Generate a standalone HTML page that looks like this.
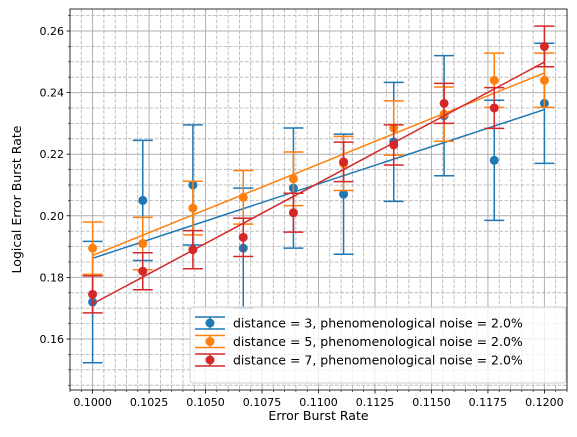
<!DOCTYPE html>
<html><head><meta charset="utf-8"><style>
body{margin:0;background:#fff;font-family:"Liberation Sans","DejaVu Sans",sans-serif}
svg text{font-family:"DejaVu Sans","Liberation Sans",sans-serif}
</style></head><body>
<svg id="chart" width="577" height="432" xmlns="http://www.w3.org/2000/svg"></svg>
<script>
const xs = [0.1, 0.10222, 0.10444, 0.10667, 0.10889, 0.11111, 0.11333, 0.11556, 0.11778, 0.12];
const d3vals = [0.172, 0.205, 0.21, 0.1895, 0.209, 0.207, 0.224, 0.2325, 0.218, 0.2365];
const d3errs = [0.0197, 0.0195, 0.0195, 0.0195, 0.0195, 0.0195, 0.0193, 0.0195, 0.0195, 0.0195];
const d5vals = [0.1895, 0.191, 0.2025, 0.206, 0.212, 0.217, 0.2285, 0.233, 0.244, 0.244];
const d5errs = [0.0085, 0.0085, 0.0087, 0.0087, 0.0087, 0.0088, 0.0088, 0.0088, 0.0088, 0.0088];
const d7vals = [0.1745, 0.182, 0.189, 0.193, 0.201, 0.2175, 0.223, 0.2365, 0.235, 0.255];
const d7errs = [0.006, 0.006, 0.0062, 0.0062, 0.0063, 0.0064, 0.0065, 0.0065, 0.0066, 0.0066];
const xTicks = ["0.1000","0.1025","0.1050","0.1075","0.1100","0.1125","0.1150","0.1175","0.1200"];
const yTicks = ["0.16","0.18","0.20","0.22","0.24","0.26"];
const seriesNames = ["distance = 3, phenomenological noise = 2.0%","distance = 5, phenomenological noise = 2.0%","distance = 7, phenomenological noise = 2.0%"];

const L=70,R=567,T=9,B=390;
const X0=0.099,X1=0.121,Y0=0.14344,Y1=0.26714;
const sx=v=>L+(v-X0)/(X1-X0)*(R-L);
const sy=v=>B-(v-Y0)/(Y1-Y0)*(B-T);
const svg=document.getElementById('chart');
const NS="http://www.w3.org/2000/svg";
function mk(tag,attrs,parent){const e=document.createElementNS(NS,tag);for(const k in attrs)e.setAttribute(k,attrs[k]);(parent||svg).appendChild(e);return e;}

const grid=mk('g',{});


for(let k=198;k<=242;k++){if(k%5===0)continue;const x=sx(k*0.0005);mk('line',{x1:x,x2:x,y1:T,y2:B,stroke:'#b0b0b0','stroke-width':0.8,'stroke-dasharray':'3.7,1.6'},grid);mk('line',{x1:x,x2:x,y1:B,y2:B+2,stroke:'#000','stroke-width':0.6});}
for(let k=29;k<=53;k++){if(k%4===0)continue;const y=sy(k*0.005);mk('line',{x1:L,x2:R,y1:y,y2:y,stroke:'#b0b0b0','stroke-width':0.8,'stroke-dasharray':'3.7,1.6'},grid);mk('line',{x1:L-2,x2:L,y1:y,y2:y,stroke:'#000','stroke-width':0.6});}
xTicks.forEach(t=>{const x=sx(+t);mk('line',{x1:x,x2:x,y1:T,y2:B,stroke:'#b0b0b0','stroke-width':1},grid);mk('line',{x1:x,x2:x,y1:B,y2:B+3.5,stroke:'#000','stroke-width':0.8});
 const tx=mk('text',{x:x,y:B+16,'text-anchor':'middle','font-size':11});tx.textContent=t;
 
 });
yTicks.forEach(t=>{const y=sy(+t);mk('line',{x1:L,x2:R,y1:y,y2:y,stroke:'#b0b0b0','stroke-width':1},grid);mk('line',{x1:L-3.5,x2:L,y1:y,y2:y,stroke:'#000','stroke-width':0.8});
 const tx=mk('text',{x:L-6,y:y+4,'text-anchor':'end','font-size':11});tx.textContent=t;
 
 });

const colors=['#1f77b4','#ff7f0e','#d62728'];
const vals=[d3vals,d5vals,d7vals],errs=[d3errs,d5errs,d7errs];
function fit(ys){const n=xs.length;let mx=0,my=0;for(let i=0;i<n;i++){mx+=xs[i];my+=ys[i];}mx/=n;my/=n;let a=0,b=0;for(let i=0;i<n;i++){a+=(xs[i]-mx)*(ys[i]-my);b+=(xs[i]-mx)**2;}const s=a/b;return [s,my-s*mx];}
vals.forEach((ys,si)=>{
 const g=mk('g',{});
 
 
 const c=colors[si];
 ys.forEach((v,i)=>{const x=sx(xs[i]),e=errs[si][i];
  mk('line',{x1:x,x2:x,y1:sy(v-e),y2:sy(v+e),stroke:c,'stroke-width':1.5},g);
  [v-e,v+e].forEach(w=>mk('line',{x1:x-10,x2:x+10,y1:sy(w),y2:sy(w),stroke:c,'stroke-width':1.5},g));
  const p=mk('circle',{cx:x,cy:sy(v),r:4.5,fill:c},g);
  
  });
 const [s,b]=fit(ys);
 const ln=mk('line',{x1:sx(xs[0]),y1:sy(s*xs[0]+b),x2:sx(xs[xs.length-1]),y2:sy(s*xs[xs.length-1]+b),stroke:c,'stroke-width':1.5},g);
 
 
});
mk('rect',{x:L,y:T,width:R-L,height:B-T,fill:'none',stroke:'#000','stroke-width':0.8});

const lg=mk('g',{});


mk('rect',{x:190,y:307,width:376,height:76,rx:3,fill:'rgba(255,255,255,0.8)',stroke:'#ccc'},lg);
seriesNames.forEach((n,i)=>{const y=323+i*18.5,c=colors[i];
 const e=mk('g',{},lg);
 
 
 mk('line',{x1:195,x2:225,y1:y-6,y2:y-6,stroke:c,'stroke-width':1.5},e);
 mk('line',{x1:195,x2:225,y1:y+6,y2:y+6,stroke:c,'stroke-width':1.5},e);
 mk('line',{x1:210,x2:210,y1:y-6,y2:y+6,stroke:c,'stroke-width':1.5},e);
 mk('circle',{cx:210,cy:y,r:4.5,fill:c},e);
 const t=mk('text',{x:233,y:y+4.5,'font-size':12.5},e);t.textContent=n;});

const xl=mk('text',{x:(L+R)/2,y:420,'text-anchor':'middle','font-size':12.5});xl.textContent='Error Burst Rate';


const yl=mk('text',{x:0,y:0,'text-anchor':'middle','font-size':12.5,transform:`translate(21,${(T+B)/2}) rotate(-90)`});yl.textContent='Logical Error Burst Rate';


</script>
</body></html>
